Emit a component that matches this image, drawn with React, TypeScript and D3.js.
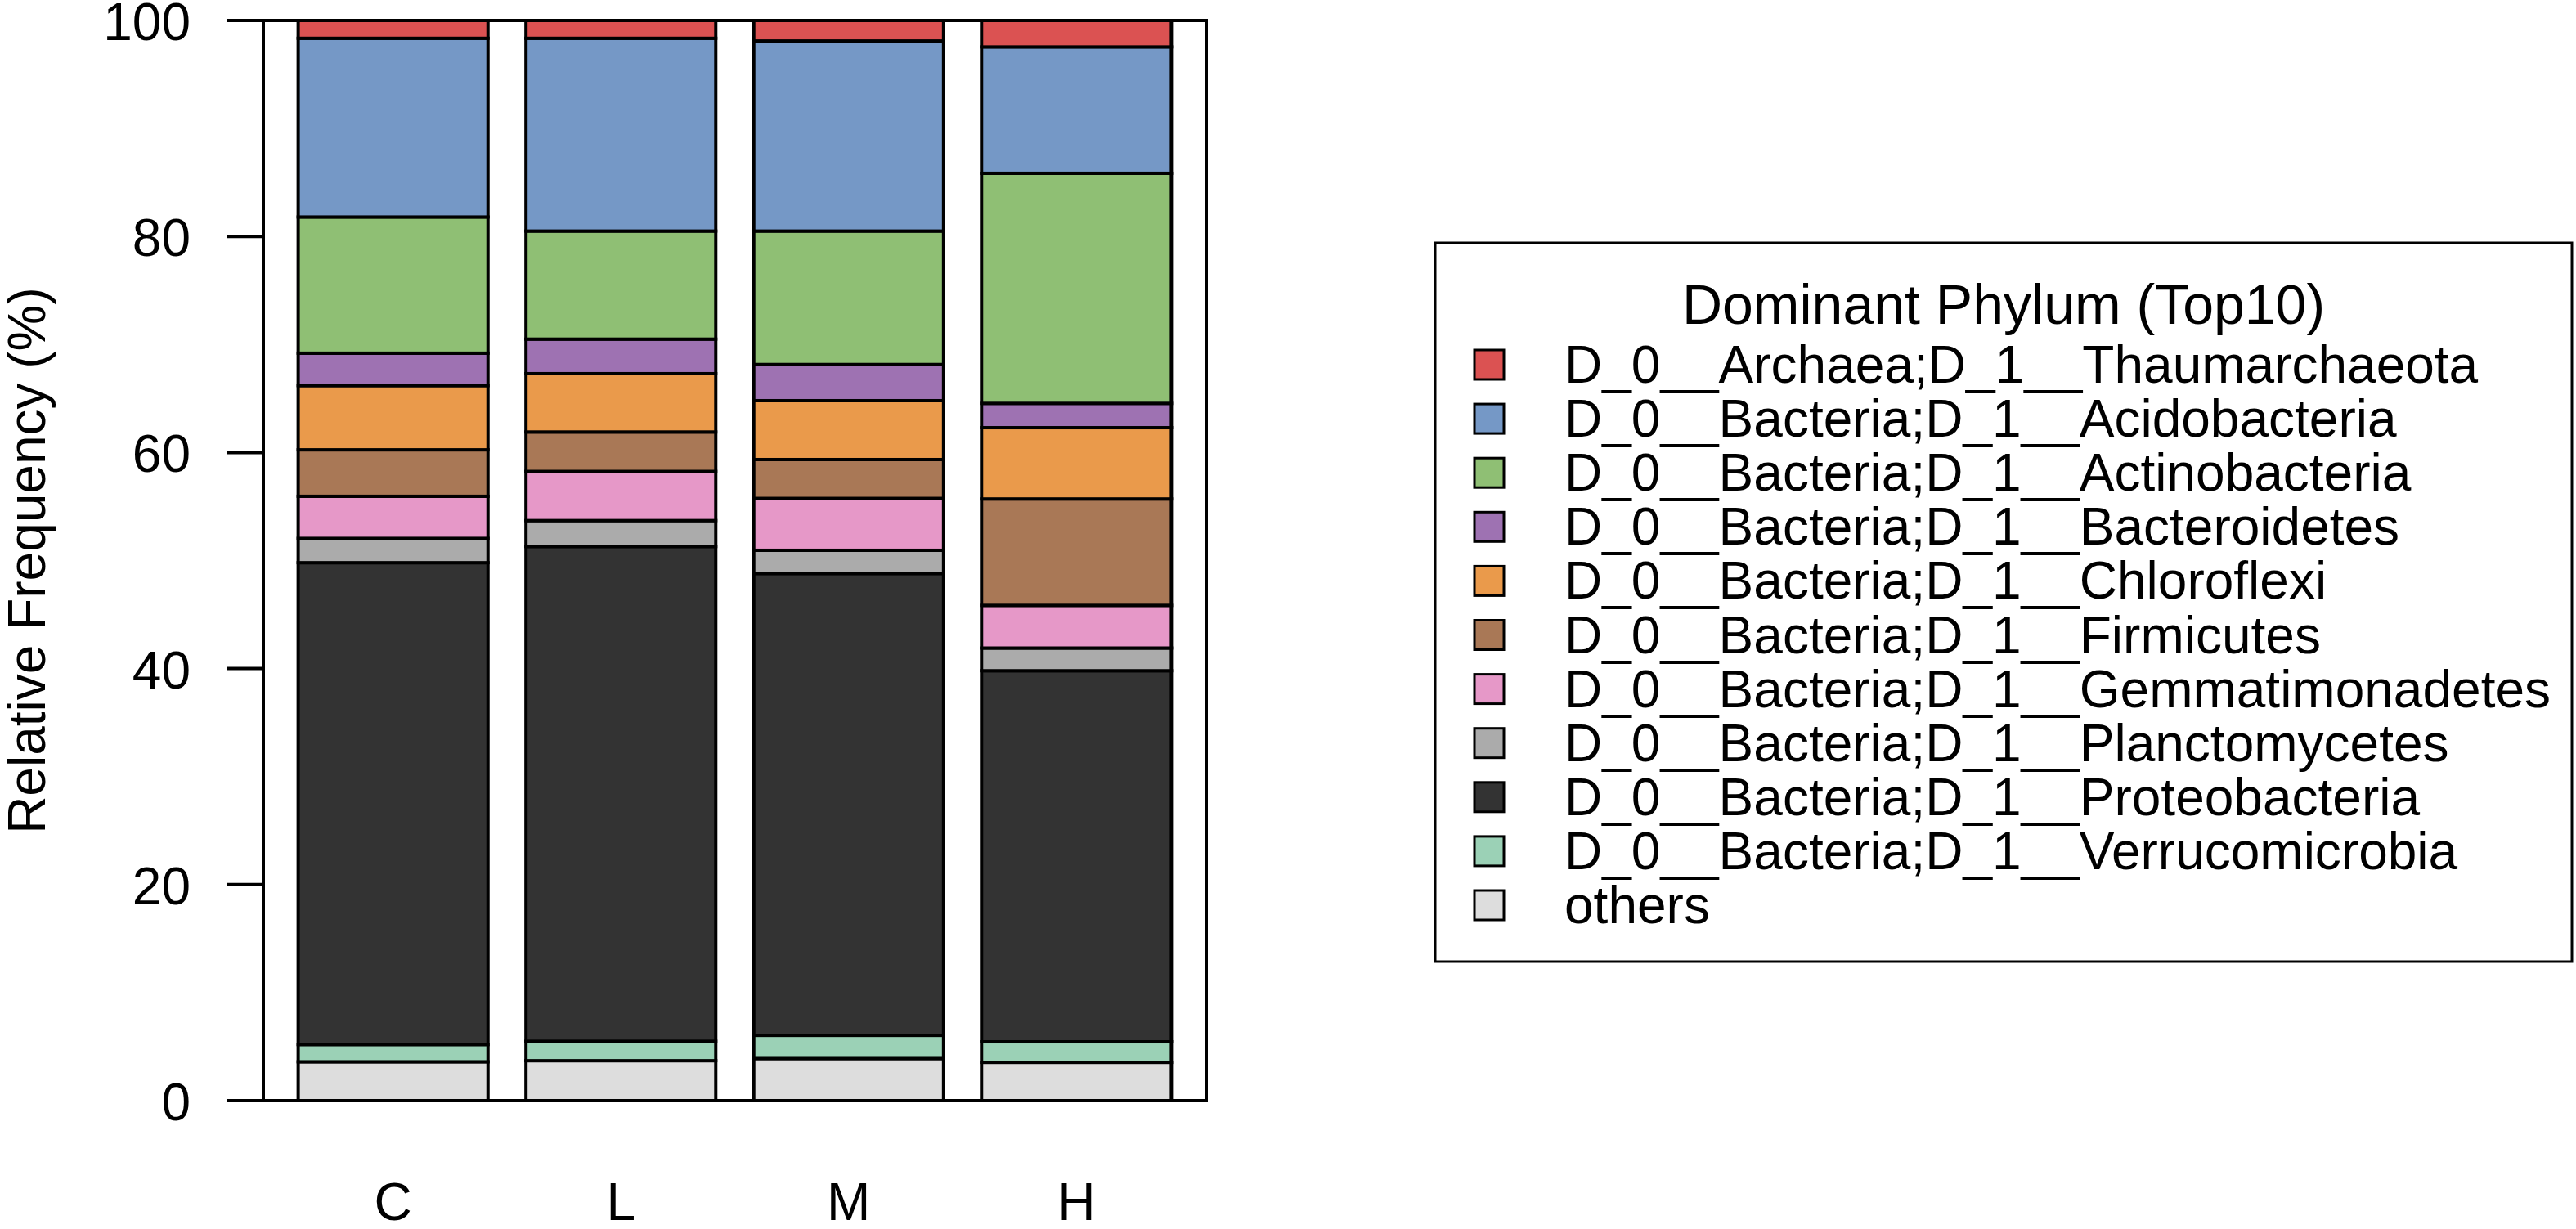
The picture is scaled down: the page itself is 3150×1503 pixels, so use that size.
import React from "react";
import * as d3 from "d3";

const groups = ["C", "L", "M", "H"];

const phyla = [
  "D_0__Archaea;D_1__Thaumarchaeota",
  "D_0__Bacteria;D_1__Acidobacteria",
  "D_0__Bacteria;D_1__Actinobacteria",
  "D_0__Bacteria;D_1__Bacteroidetes",
  "D_0__Bacteria;D_1__Chloroflexi",
  "D_0__Bacteria;D_1__Firmicutes",
  "D_0__Bacteria;D_1__Gemmatimonadetes",
  "D_0__Bacteria;D_1__Planctomycetes",
  "D_0__Bacteria;D_1__Proteobacteria",
  "D_0__Bacteria;D_1__Verrucomicrobia",
  "others",
];

const colors = [
  "#DB5252",
  "#7598C6",
  "#8FBF74",
  "#9E72B2",
  "#EA9A4B",
  "#A97856",
  "#E698C8",
  "#ABABAB",
  "#333333",
  "#9BD1B6",
  "#DDDDDD",
];

// values per group in legend order (top of stack first)
const valuesC = [1.65, 16.55, 12.6, 3.0, 5.95, 4.3, 3.9, 2.25, 44.6, 1.6, 3.6];
const valuesL = [1.65, 17.85, 10.0, 3.2, 5.4, 3.65, 4.55, 2.4, 45.8, 1.8, 3.7];
const valuesM = [1.9, 17.6, 12.35, 3.35, 5.45, 3.6, 4.8, 2.15, 42.75, 2.15, 3.9];
const valuesH = [2.45, 11.7, 21.3, 2.25, 6.6, 9.85, 3.95, 2.1, 34.35, 1.9, 3.55];

const seriesValues = [valuesC, valuesL, valuesM, valuesH];

const yTicks = [0, 20, 40, 60, 80, 100];

const FONT = "'Liberation Sans', Arial, Helvetica, sans-serif";

export default function App() {
  const W = 3150;
  const H = 1503;
  const plotLeft = 322;
  const plotRight = 1475;
  const plotTop = 25;
  const plotBottom = 1346;

  const x = d3
    .scaleBand<string>()
    .domain(groups)
    .range([plotLeft, plotRight])
    .paddingInner(1 / 6)
    .paddingOuter(0.153);
  const y = d3.scaleLinear().domain([0, 100]).range([plotBottom, plotTop]);

  const segments: { g: string; i: number; y0: number; y1: number }[] = [];
  groups.forEach((g, gi) => {
    const vals = seriesValues[gi];
    let acc = 0;
    for (let i = vals.length - 1; i >= 0; i--) {
      const y0 = acc;
      acc += vals[i];
      segments.push({ g, i, y0, y1: acc });
    }
  });

  const legendLeft = 1755;
  const legendRight = 3145;
  const legendTop = 297;
  const legendBottom = 1176;
  const rowStart = 446;
  const rowStep = 66.1;

  return (
    <svg
      width={W}
      height={H}
      style={{ position: "absolute", left: 0, top: 0, background: "#fff" }}
      fontFamily={FONT}
    >
      <rect x={0} y={0} width={W} height={H} fill="#fff" />
      {segments.map((s, k) => {
        const top = y(Math.min(100, s.y1));
        const bot = y(s.y0);
        return (
          <rect
            key={k}
            x={x(s.g)}
            y={top}
            width={x.bandwidth()}
            height={bot - top}
            fill={colors[s.i]}
            stroke="#000"
            strokeWidth={4}
          />
        );
      })}
      <rect
        x={plotLeft}
        y={plotTop}
        width={plotRight - plotLeft}
        height={plotBottom - plotTop}
        fill="none"
        stroke="#000"
        strokeWidth={4}
      />
      {yTicks.map((t) => (
        <g key={t}>
          <line x1={278} x2={plotLeft} y1={y(t)} y2={y(t)} stroke="#000" strokeWidth={4} />
          <text
            x={233}
            y={y(t) + 2}
            textAnchor="end"
            dominantBaseline="central"
            fontSize={64}
            fill="#000"
          >
            {t}
          </text>
        </g>
      ))}
      <text
        transform={`translate(55,${(plotTop + plotBottom) / 2}) rotate(-90)`}
        textAnchor="middle"
        fontSize={64}
        fill="#000"
      >
        Relative Frequency (%)
      </text>
      {groups.map((g) => (
        <text
          key={g}
          x={(x(g) as number) + x.bandwidth() / 2}
          y={1492}
          textAnchor="middle"
          fontSize={64}
          fill="#000"
        >
          {g}
        </text>
      ))}
      <rect
        x={legendLeft}
        y={legendTop}
        width={legendRight - legendLeft}
        height={legendBottom - legendTop}
        fill="#fff"
        stroke="#000"
        strokeWidth={3}
      />
      <text
        x={(legendLeft + legendRight) / 2}
        y={372}
        textAnchor="middle"
        dominantBaseline="central"
        fontSize={68}
        fill="#000"
      >
        Dominant Phylum (Top10)
      </text>
      {phyla.map((p, i) => {
        const cy = rowStart + i * rowStep;
        return (
          <g key={p}>
            <rect
              x={1803}
              y={cy - 18}
              width={36}
              height={36}
              fill={colors[i]}
              stroke="#000"
              strokeWidth={3}
            />
            <text x={1913} y={cy} dominantBaseline="central" fontSize={64} fill="#000">
              {p}
            </text>
          </g>
        );
      })}
    </svg>
  );
}
